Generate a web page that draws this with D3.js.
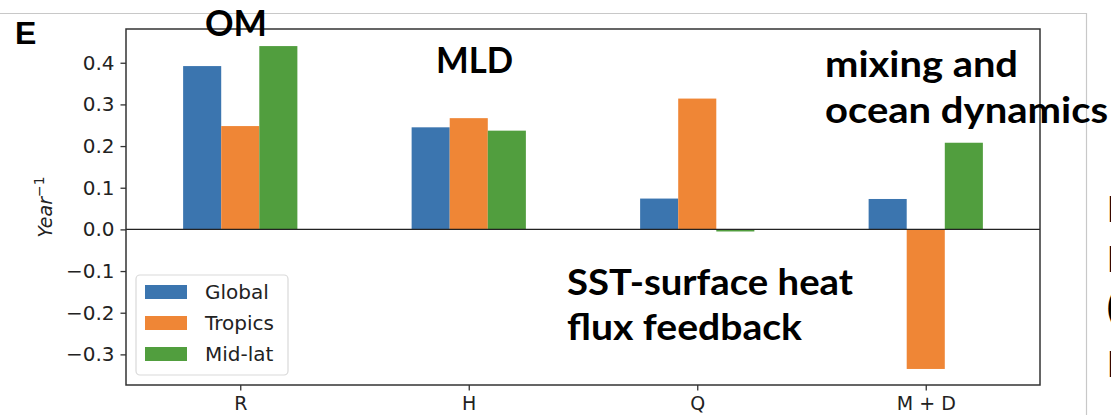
<!DOCTYPE html>
<html>
<head>
<meta charset="utf-8">
<script src="https://cdn.jsdelivr.net/npm/d3@7"></script>
<style>
  body { margin: 0; background: #fff; }
  svg { display: block; }
</style>
</head>
<body>
<svg id="chart" width="1111" height="415"></svg>
<script>
// data
const categories = ["R", "H", "Q", "M + D"];
const seriesNames = ["Global", "Tropics", "Mid-lat"];
const globalVals = [0.392, 0.245, 0.074, 0.073];
const tropicsVals = [0.248, 0.267, 0.314, -0.335];
const midlatVals = [0.440, 0.237, -0.005, 0.208];
const yTicks = [-0.3, -0.2, -0.1, 0.0, 0.1, 0.2, 0.3, 0.4];

const colors = ["#3b75af", "#ef8636", "#519e3e"];
const series = [globalVals, tropicsVals, midlatVals];

const svg = d3.select("#chart");
const plotL = 126, plotR = 1040, plotT = 29, plotB = 385;

const x = d3.scaleLinear().domain([-0.5, 3.5]).range([plotL, plotR]);
const y = d3.scaleLinear().domain([-0.3735, 0.481]).range([plotB, plotT]);
const barW = 1 / 6;

// light slide frame
svg.append("line")
  .attr("x1", 0).attr("x2", 1086).attr("y1", 13.5).attr("y2", 13.5)
  .attr("stroke", "#c8c8c8").attr("stroke-width", 1.2);
svg.append("line")
  .attr("x1", 1086.5).attr("x2", 1086.5).attr("y1", 13).attr("y2", 415)
  .attr("stroke", "#c8c8c8").attr("stroke-width", 1.2);

// bars
series.forEach((vals, s) => {
  svg.append("g")
    .selectAll("rect")
    .data(vals)
    .join("rect")
    .attr("x", (d, i) => x(i + (s - 1) * barW - barW / 2))
    .attr("width", x(barW) - x(0))
    .attr("y", d => y(Math.max(0, d)))
    .attr("height", d => Math.abs(y(d) - y(0)))
    .attr("fill", colors[s]);
});

// zero line
svg.append("line")
  .attr("x1", plotL).attr("x2", plotR)
  .attr("y1", y(0)).attr("y2", y(0))
  .attr("stroke", "#222").attr("stroke-width", 1.1);

// axes
const yAxis = svg.append("g")
  .attr("transform", `translate(${plotL},0)`)
  .call(d3.axisLeft(y).tickValues(yTicks).tickFormat(d3.format(".1f"))
    .tickSize(5.5).tickPadding(6));
const xAxis = svg.append("g")
  .attr("transform", `translate(0,${plotB})`)
  .call(d3.axisBottom(x).tickValues(d3.range(categories.length))
    .tickFormat(i => categories[i]).tickSize(5.5).tickPadding(6));

[yAxis, xAxis].forEach(g => {
  g.select(".domain").remove();
  g.selectAll(".tick line").attr("stroke", "#333").attr("stroke-width", 1.3);
  g.selectAll("text")
    .attr("fill", "#222")
    .style("font-family", "DejaVu Sans")
    .style("font-size", "20px");
});
xAxis.selectAll("text").style("font-size", "19px");

// spines
svg.append("rect")
  .attr("x", plotL).attr("y", plotT)
  .attr("width", plotR - plotL).attr("height", plotB - plotT)
  .attr("fill", "none").attr("stroke", "#333").attr("stroke-width", 1.5);

// y label
const yl = svg.append("text")
  .attr("transform", "translate(52,207) rotate(-90)")
  .attr("text-anchor", "middle")
  .style("font-family", "DejaVu Sans")
  .style("font-style", "italic")
  .style("font-size", "19px")
  .attr("fill", "#222");
yl.append("tspan").text("Year");
yl.append("tspan").attr("dy", -8).style("font-size", "14px").style("font-style", "normal").text("\u22121");

// legend
const leg = svg.append("g");
leg.append("rect")
  .attr("x", 136).attr("y", 275).attr("width", 152).attr("height", 100)
  .attr("rx", 4).attr("fill", "#fff").attr("fill-opacity", 0.8)
  .attr("stroke", "#d9d9d9").attr("stroke-width", 1.2);
seriesNames.forEach((name, i) => {
  const cy = 292 + i * 31;
  leg.append("rect")
    .attr("x", 145).attr("y", cy - 7).attr("width", 42).attr("height", 14)
    .attr("fill", colors[i]);
  leg.append("text")
    .attr("x", 205).attr("y", cy).attr("dy", "0.36em")
    .style("font-family", "DejaVu Sans").style("font-size", "20px")
    .attr("fill", "#222")
    .text(name);
});

// panel letter and annotations
svg.append("text")
  .attr("x", 15).attr("y", 44)
  .style("font-family", "Liberation Sans").style("font-weight", "bold")
  .style("font-size", "32px")
  .text("E");

// w = width the phrase takes in the picture (the original font is wider than Lato)
const notes = [
  { t: "OM", x: 205, y: 36, w: 62 },
  { t: "MLD", x: 436, y: 73, w: 77 },
  { t: "mixing and", x: 825, y: 77, w: 193 },
  { t: "ocean dynamics", x: 825, y: 123, w: 283 },
  { t: "SST-surface heat", x: 567, y: 295, w: 286 },
  { t: "flux feedback", x: 567, y: 340, w: 235 },
  { t: "P", x: 1107, y: 222 },
  { t: "N", x: 1107, y: 272 },
  { t: "(", x: 1107, y: 320 },
  { t: "P", x: 1107, y: 377 }
];
svg.append("g")
  .selectAll("text")
  .data(notes)
  .join("text")
  .attr("x", d => d.x).attr("y", d => d.y)
  .attr("textLength", d => d.w || null)
  .attr("lengthAdjust", d => d.w ? "spacingAndGlyphs" : null)
  .style("font-family", "Lato").style("font-weight", "bold")
  .style("font-size", "36px")
  .attr("fill", "#000")
  .text(d => d.t);
</script>
</body>
</html>
